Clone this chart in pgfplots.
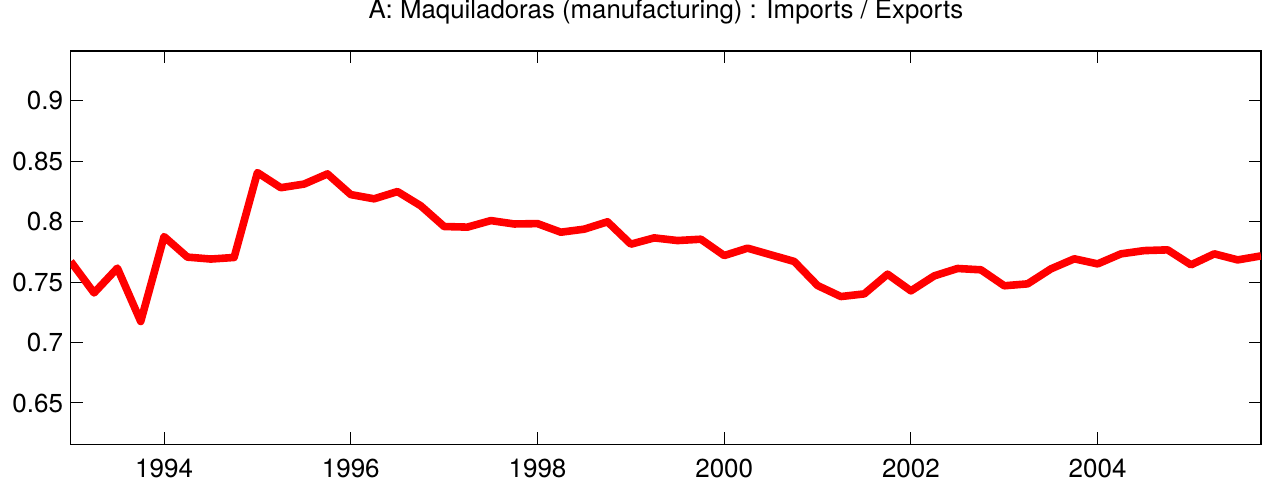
\documentclass[border=0pt]{standalone}
\usepackage{fontspec}
\setmainfont{TeX Gyre Heros}
\usepackage{pgfplots}
\pgfplotsset{compat=1.18}
\begin{document}
\begin{tikzpicture}
\begin{axis}[
  scale only axis,
  width=595pt, height=196.5pt,
  xmin=1993, xmax=2005.75,
  ymin=0.616, ymax=0.941,
  xtick={1994,1996,1998,2000,2002,2004},
  ytick={0.65,0.7,0.75,0.8,0.85,0.9},
  yticklabels={0.65,0.7,0.75,0.8,0.85,0.9},
  xticklabels={1994,1996,1998,2000,2002,2004},
  tick align=inside,
  major tick length=6pt,
  axis line style={line width=0.6pt},
  every tick/.style={black, line width=0.5pt},
  tick label style={font=\fontsize{13}{15}\selectfont},
  xticklabel style={anchor=base, yshift=-16.5pt},
  yticklabel style={xshift=-0.3pt},
  title={A: Maquiladoras (manufacturing) : Imports / Exports},
  title style={font=\fontsize{12.9}{15}\selectfont, at={(0.5,1)}, anchor=base, yshift=10.5pt},
  clip=true,
]
\addplot[color={rgb,255:red,255;green,0;blue,0}, line width=3.8pt, line join=round, mark=none] coordinates {
(1993.00,0.767) (1993.25,0.741) (1993.50,0.7615) (1993.75,0.7174)
(1994.00,0.7876) (1994.25,0.7706) (1994.50,0.769) (1994.75,0.7703)
(1995.00,0.8405) (1995.25,0.828) (1995.50,0.831) (1995.75,0.8394)
(1996.00,0.8223) (1996.25,0.8188) (1996.50,0.8248) (1996.75,0.813)
(1997.00,0.7959) (1997.25,0.7954) (1997.50,0.8008) (1997.75,0.798)
(1998.00,0.7983) (1998.25,0.7912) (1998.50,0.7937) (1998.75,0.7998)
(1999.00,0.7813) (1999.25,0.7865) (1999.50,0.7843) (1999.75,0.7854)
(2000.00,0.7719) (2000.25,0.778) (2000.50,0.7725) (2000.75,0.767)
(2001.00,0.7471) (2001.25,0.738) (2001.50,0.7402) (2001.75,0.7565)
(2002.00,0.7427) (2002.25,0.7551) (2002.50,0.7612) (2002.75,0.7601)
(2003.00,0.7469) (2003.25,0.7485) (2003.50,0.7609) (2003.75,0.7692)
(2004.00,0.765) (2004.25,0.7733) (2004.50,0.776) (2004.75,0.7766)
(2005.00,0.7642) (2005.25,0.7733) (2005.50,0.7683) (2005.75,0.7716)
};
\end{axis}
\pgfresetboundingbox
\path ([shift={(-35.35pt,-19.5pt)}]current axis.south west) rectangle ([shift={(1pt,25.5pt)}]current axis.north east);
\end{tikzpicture}
\end{document}
